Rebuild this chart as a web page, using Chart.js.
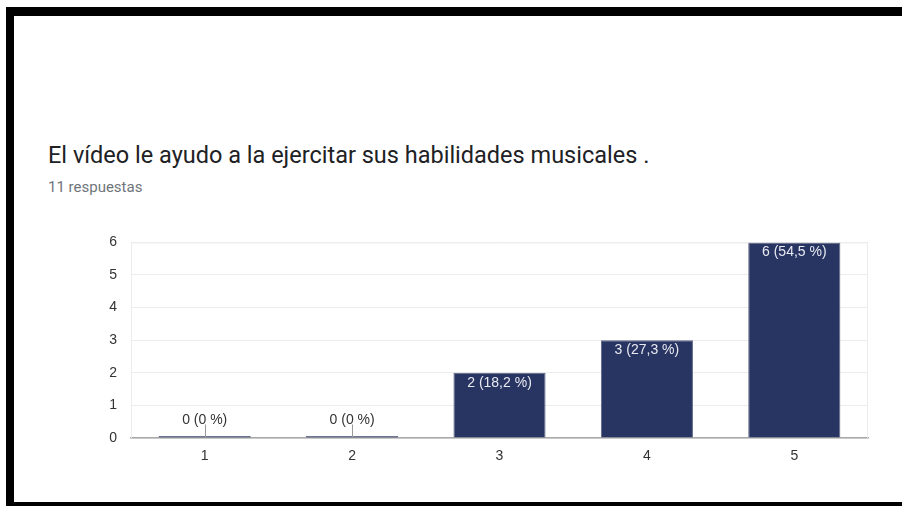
<!DOCTYPE html>
<html>
<head>
<meta charset="utf-8">
<script src="https://cdn.jsdelivr.net/npm/chart.js@4"></script>
<style>
  html, body { margin: 0; padding: 0; width: 902px; height: 506px; overflow: hidden; background: #fff; }
  .frame {
    position: absolute; left: 6px; top: 7px; width: 920px; height: 499px; box-sizing: border-box;
    border-top: 9px solid #000; border-left: 8px solid #000; border-bottom: 4px solid #000;
  }
  .title {
    position: absolute; left: 48px; top: 141px; font-family: Roboto, "Noto Sans", sans-serif;
    font-size: 23.5px; color: #202124; white-space: nowrap;
  }
  .sub {
    position: absolute; left: 48px; top: 178px; font-family: Roboto, "Noto Sans", sans-serif;
    font-size: 15px; color: #70757a; white-space: nowrap;
  }
  .wrap { position: absolute; left: 0; top: 220px; width: 902px; height: 260px; }
</style>
</head>
<body>
<div class="frame"></div>
<div class="title">El vídeo le ayudo a la ejercitar sus habilidades musicales .</div>
<div class="sub">11 respuestas</div>
<div class="wrap"><canvas id="chart"></canvas></div>
<script>
const categories = ["1", "2", "3", "4", "5"];
const counts = [0, 0, 2, 3, 6];
const percents = ["0 %", "0 %", "18,2 %", "27,3 %", "54,5 %"];
const yTicks = [0, 1, 2, 3, 4, 5, 6];

const FONT = "'Liberation Sans', Arial, sans-serif";

// labels on the bars: inside for tall bars, above with a small stem for zero bars
const barLabels = {
  id: "barLabels",
  afterDatasetsDraw(chart) {
    const ctx = chart.ctx;
    const meta = chart.getDatasetMeta(0);
    ctx.save();
    ctx.font = "14px " + FONT;
    ctx.textAlign = "center";
    ctx.textBaseline = "top";
    meta.data.forEach((bar, i) => {
      const text = counts[i] + " (" + percents[i] + ")";
      if (counts[i] > 0) {
        ctx.fillStyle = "#e8eaf2";
        ctx.fillText(text, bar.x, bar.y + 3);
      } else {
        ctx.strokeStyle = "#999";
        ctx.lineWidth = 1;
        ctx.beginPath();
        ctx.moveTo(Math.round(bar.x) + 0.5, bar.base - 13);
        ctx.lineTo(Math.round(bar.x) + 0.5, bar.base);
        ctx.stroke();
        ctx.fillStyle = "#333";
        ctx.fillText(text, bar.x, bar.base - 24);
      }
    });
    ctx.restore();
  }
};

// faint box round the plot area
const plotFrame = {
  id: "plotFrame",
  beforeDatasetsDraw(chart) {
    const { ctx, chartArea: a } = chart;
    ctx.save();
    ctx.strokeStyle = "#ececec";
    ctx.lineWidth = 1;
    ctx.beginPath();
    ctx.moveTo(a.left + 0.5, a.bottom);
    ctx.lineTo(a.left + 0.5, a.top + 0.5);
    ctx.lineTo(a.right - 0.5, a.top + 0.5);
    ctx.lineTo(a.right - 0.5, a.bottom);
    ctx.stroke();
    ctx.restore();
  }
};

new Chart(document.getElementById("chart"), {
  type: "bar",
  data: {
    labels: categories,
    datasets: [{
      data: counts,
      backgroundColor: "#283461",
      borderColor: "#5c6584",
      borderWidth: 1,
      minBarLength: 2,
      barPercentage: 0.625,
      categoryPercentage: 1
    }]
  },
  options: {
    responsive: true,
    maintainAspectRatio: false,
    animation: false,
    layout: { padding: { top: 5, right: 34, bottom: 11, left: 0 } },
    plugins: { legend: { display: false }, tooltip: { enabled: false } },
    scales: {
      x: {
        afterFit(scale) { scale.height = 31; },
        grid: { display: false },
        border: { display: true, color: "#a8a8a8", width: 1.5 },
        ticks: {
          padding: 2,
          color: "#333",
          font: { family: FONT, size: 14 }
        }
      },
      y: {
        min: 0,
        max: 6,
        afterFit(scale) { scale.width = 131; },
        afterBuildTicks(scale) { scale.ticks = yTicks.map(v => ({ value: v })); },
        grid: { color: "#ececec", drawTicks: false },
        border: { display: false },
        ticks: {
          padding: 14,
          color: "#333",
          font: { family: FONT, size: 14 }
        }
      }
    }
  },
  plugins: [plotFrame, barLabels]
});
</script>
</body>
</html>
